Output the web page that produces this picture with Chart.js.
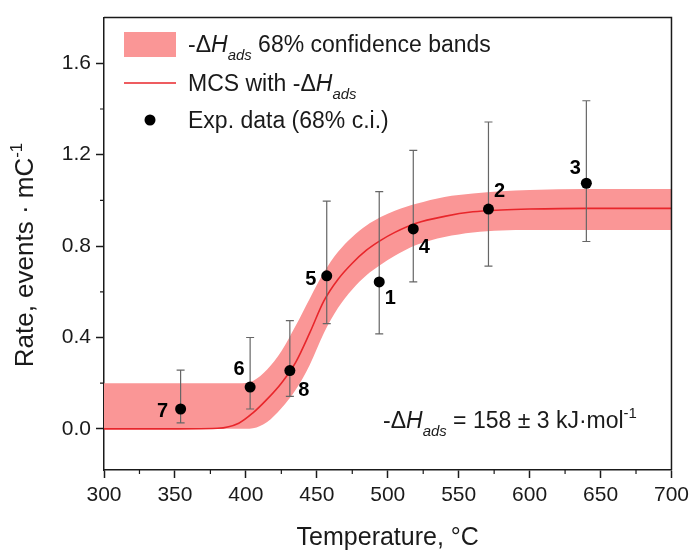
<!DOCTYPE html>
<html>
<head>
<meta charset="utf-8">
<script src="https://cdn.jsdelivr.net/npm/chart.js@4.4.1/dist/chart.umd.min.js"></script>
<style>
  html, body { margin: 0; padding: 0; background: #fff; }
  #wrap { width: 694px; height: 553px; }
</style>
</head>
<body>
<div id="wrap"><canvas id="chart" width="694" height="553"></canvas></div>
<script>
// Experimental runs, numbered 1-8
const runLabels = ['1', '2', '3', '4', '5', '6', '7', '8'];
const runTemp = [494, 571, 640, 518, 457, 403, 354, 431];
const runRate = [0.643, 0.962, 1.075, 0.875, 0.670, 0.183, 0.087, 0.255];
const runLow = [0.416, 0.712, 0.820, 0.643, 0.461, 0.087, 0.026, 0.142];
const runHigh = [1.038, 1.343, 1.436, 1.219, 0.997, 0.400, 0.257, 0.474];

// MCS curve and its 68% confidence band
const mcsTemp = [300, 340, 380, 395, 405, 415, 425, 435, 445, 455, 465, 475, 485, 495, 505, 520, 540, 560, 580, 600, 640, 700];
const mcsRate = [0, 0, 0.003, 0.025, 0.07, 0.13, 0.2, 0.29, 0.42, 0.56, 0.655, 0.725, 0.782, 0.825, 0.86, 0.9, 0.93, 0.95, 0.958, 0.962, 0.965, 0.965];
const bandLow = [0, 0, 0, 0, 0.003, 0.03, 0.09, 0.17, 0.28, 0.42, 0.53, 0.61, 0.672, 0.718, 0.758, 0.805, 0.84, 0.86, 0.868, 0.87, 0.87, 0.87];
const bandHigh = [0.2, 0.2, 0.2, 0.2, 0.21, 0.26, 0.34, 0.45, 0.57, 0.685, 0.775, 0.84, 0.89, 0.927, 0.955, 0.985, 1.015, 1.03, 1.04, 1.045, 1.05, 1.05];

const xTicks = [300, 350, 400, 450, 500, 550, 600, 650, 700];
const yTicks = [0, 0.4, 0.8, 1.2, 1.6];

const FONT = '"Liberation Sans", Arial, Helvetica, sans-serif';
const INK = '#1a1a1a';
const BAND = '#fa9696';
const RED = '#e8262b';

// offsets of the run numbers from their points, in px
const labelOffsets = {
  '1': [11, 15], '2': [11, -19], '3': [-11, -16], '4': [11, 17],
  '5': [-16, 2], '6': [-11, -19], '7': [-18, 1], '8': [14, 18]
};

const pts = (xs, ys) => xs.map((x, i) => ({ x: x, y: ys[i] }));

// rich text pieces: t = text, it = italic, sub / sup = small shifted text
function partFont(p, size) {
  const s = (p.sub || p.sup) ? size * 0.65 : size;
  return (p.it ? 'italic ' : '') + (p.bold ? 'bold ' : '') + s + 'px ' + FONT;
}
function richWidth(ctx, parts, size) {
  let w = 0;
  parts.forEach(p => { ctx.font = partFont(p, size); w += ctx.measureText(p.t).width; });
  return w;
}
function drawRich(ctx, parts, x, y, size) {
  parts.forEach(p => {
    ctx.font = partFont(p, size);
    const dy = p.sub ? size * 0.33 : p.sup ? -size * 0.42 : 0;
    ctx.fillText(p.t, x, y + dy);
    x += ctx.measureText(p.t).width;
  });
}

const dH = [{ t: '-\u0394' }, { t: 'H', it: true }, { t: 'ads', it: true, sub: true }];

const decor = {
  id: 'decor',
  // error bars go in just before the points (dataset 0, drawn last)
  beforeDatasetDraw(chart, args) {
    if (args.index !== 0) return;
    const { ctx, scales: { x, y } } = chart;
    ctx.save();
    ctx.strokeStyle = '#666';
    ctx.lineWidth = 1.2;
    runTemp.forEach((t, i) => {
      const px = x.getPixelForValue(t);
      const top = y.getPixelForValue(runHigh[i]);
      const bot = y.getPixelForValue(runLow[i]);
      ctx.beginPath();
      ctx.moveTo(px, top); ctx.lineTo(px, bot);
      ctx.moveTo(px - 4, top); ctx.lineTo(px + 4, top);
      ctx.moveTo(px - 4, bot); ctx.lineTo(px + 4, bot);
      ctx.stroke();
    });
    ctx.restore();
  },
  afterDraw(chart) {
    const { ctx, chartArea: a, scales: { x, y } } = chart;
    ctx.save();

    // frame top and right
    ctx.strokeStyle = INK;
    ctx.lineWidth = 1.5;
    ctx.beginPath();
    ctx.moveTo(a.left, a.top); ctx.lineTo(a.right, a.top); ctx.lineTo(a.right, a.bottom);
    ctx.stroke();

    // minor ticks halfway between the labelled ones
    ctx.lineWidth = 1.2;
    ctx.beginPath();
    for (let i = 0; i < xTicks.length - 1; i++) {
      const px = x.getPixelForValue((xTicks[i] + xTicks[i + 1]) / 2);
      ctx.moveTo(px, a.bottom); ctx.lineTo(px, a.bottom + 4);
    }
    for (let i = 0; i < yTicks.length - 1; i++) {
      const py = y.getPixelForValue((yTicks[i] + yTicks[i + 1]) / 2);
      ctx.moveTo(a.left - 4, py); ctx.lineTo(a.left, py);
    }
    ctx.stroke();

    // run numbers
    ctx.fillStyle = '#000';
    ctx.textAlign = 'center';
    ctx.textBaseline = 'alphabetic';
    ctx.font = 'bold 20px ' + FONT;
    runLabels.forEach((lab, i) => {
      const off = labelOffsets[lab];
      const px = x.getPixelForValue(runTemp[i]) + off[0];
      const py = y.getPixelForValue(runRate[i]) + off[1];
      ctx.fillText(lab, px, py + 7);
    });

    // legend
    ctx.textAlign = 'left';
    ctx.fillStyle = BAND;
    ctx.fillRect(124, 32, 52, 25);
    ctx.strokeStyle = RED;
    ctx.lineWidth = 1.6;
    ctx.beginPath(); ctx.moveTo(124, 83); ctx.lineTo(176, 83); ctx.stroke();
    ctx.fillStyle = '#000';
    ctx.beginPath(); ctx.arc(150, 120, 5.5, 0, Math.PI * 2); ctx.fill();
    ctx.fillStyle = INK;
    drawRich(ctx, dH.concat([{ t: ' 68% confidence bands' }]), 188, 52, 23);
    drawRich(ctx, [{ t: 'MCS with ' }].concat(dH), 188, 91, 23);
    drawRich(ctx, [{ t: 'Exp. data (68% c.i.)' }], 188, 128, 23);

    // fitted enthalpy
    drawRich(ctx, dH.concat([{ t: ' = 158 \u00b1 3 kJ\u00b7mol' }, { t: '-1', sup: true }]), 383, 428, 23);

    // y axis title
    const yTitle = [{ t: 'Rate, events \u00b7 mC' }, { t: '-1', sup: true }];
    const w = richWidth(ctx, yTitle, 26);
    ctx.translate(33, 255);
    ctx.rotate(-Math.PI / 2);
    drawRich(ctx, yTitle, -w / 2, 0, 26);

    ctx.restore();
  }
};

new Chart(document.getElementById('chart'), {
  type: 'scatter',
  data: {
    datasets: [
      {
        data: pts(runTemp, runRate), showLine: false,
        pointRadius: 5.5, backgroundColor: '#000', borderWidth: 0
      },
      {
        data: pts(mcsTemp, mcsRate), showLine: true, fill: false,
        borderColor: RED, borderWidth: 1.6, pointRadius: 0,
        cubicInterpolationMode: 'monotone'
      },
      {
        data: pts(mcsTemp, bandHigh), showLine: true, fill: '+1', backgroundColor: BAND,
        borderWidth: 0, borderColor: 'rgba(0,0,0,0)', pointRadius: 0,
        cubicInterpolationMode: 'monotone'
      },
      {
        data: pts(mcsTemp, bandLow), showLine: true, fill: false,
        borderWidth: 0, borderColor: 'rgba(0,0,0,0)', pointRadius: 0,
        cubicInterpolationMode: 'monotone'
      }
    ]
  },
  options: {
    responsive: false,
    animation: false,
    devicePixelRatio: 1,
    layout: { padding: { top: 13, right: 22, left: 0, bottom: 0 } },
    plugins: { legend: { display: false }, tooltip: { enabled: false } },
    scales: {
      x: {
        type: 'linear', min: 300, max: 700,
        afterBuildTicks: s => { s.ticks = xTicks.map(v => ({ value: v })); },
        afterFit: s => { s.height = 83; },
        ticks: { font: { family: FONT, size: 21 }, color: INK, padding: 5, maxRotation: 0, autoSkip: false },
        grid: { drawOnChartArea: false, tickLength: 8, tickColor: INK, tickWidth: 1.5 },
        border: { display: true, color: INK, width: 1.5 },
        title: {
          display: true, text: 'Temperature, \u00b0C', color: INK,
          font: { family: FONT, size: 25 }, padding: { top: 0, bottom: 0 }
        }
      },
      y: {
        type: 'linear', min: -0.18, max: 1.8,
        afterBuildTicks: s => { s.ticks = yTicks.map(v => ({ value: v })); },
        afterFit: s => { s.width = 104; },
        ticks: { font: { family: FONT, size: 21 }, color: INK, padding: 5, callback: v => v.toFixed(1) },
        grid: { drawOnChartArea: false, tickLength: 8, tickColor: INK, tickWidth: 1.5 },
        border: { display: true, color: INK, width: 1.5 }
      }
    }
  },
  plugins: [decor]
});
</script>
</body>
</html>
